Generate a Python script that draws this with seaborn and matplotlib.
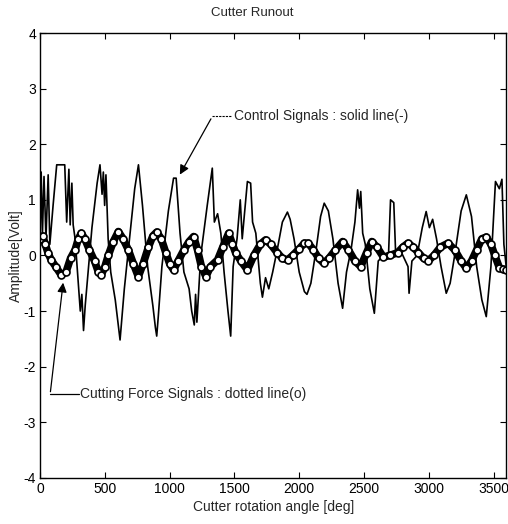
import numpy as np
import pandas as pd
import seaborn as sns
import matplotlib.pyplot as plt

sns.set_style("ticks")
plt.rcParams['font.family'] = ['Liberation Sans Narrow', 'Liberation Sans', 'DejaVu Sans']
plt.rcParams['axes.unicode_minus'] = False

# control signal (solid line)
ctrl_deg = [0, 8, 18, 30, 45, 62, 75, 100, 128, 190, 205, 222, 232, 245, 255, 270,
            292, 310, 322, 335, 348, 370, 400, 440, 462, 478, 488, 498, 508, 525,
            545, 580, 617, 650, 690, 730, 759, 790, 830, 870, 890, 900, 912, 940,
            990, 1030, 1050, 1080, 1110, 1150, 1170, 1190, 1200, 1210, 1240, 1290,
            1329, 1345, 1370, 1395, 1420, 1450, 1471, 1490, 1520, 1545, 1560, 1600,
            1625, 1640, 1665, 1700, 1716, 1740, 1765, 1795, 1830, 1870, 1909, 1930,
            1960, 2000, 2040, 2060, 2090, 2130, 2165, 2193, 2225, 2260, 2300, 2335,
            2365, 2400, 2430, 2451, 2465, 2475, 2490, 2510, 2545, 2580, 2610, 2650,
            2690, 2705, 2730, 2745, 2790, 2840, 2848, 2870, 2910, 2950, 2980, 3005,
            3030, 3060, 3095, 3135, 3165, 3200, 3250, 3290, 3330, 3370, 3410, 3444,
            3480, 3515, 3545, 3565, 3580, 3600]
ctrl_val = [0.3, 1.5, 0.4, 1.42, 0.3, 1.45, 0.2, 0.9, 1.63, 1.63, 0.6, 1.55, 0.55, 1.3, 0.55, 0.3,
            -0.4, -1.0, -0.7, -1.35, -0.9, -0.3, 0.5, 1.3, 1.63, 1.1, 1.5, 0.9, 1.45, 0.3,
            -0.3, -0.8, -1.52, -0.6, 0.3, 1.2, 1.63, 0.9, -0.2, -0.9, -1.3, -1.45, -1.1, -0.2,
            0.8, 1.39, 1.39, 0.4, -0.3, -0.6, -1.0, -1.25, -0.7, -1.2, 0.0, 0.9,
            1.57, 0.6, 0.75, 0.4, -0.3, -1.0, -1.45, -0.2, 0.3, 1.0, 0.3, 1.33,
            1.3, 0.6, 0.4, -0.5, -0.75, -0.4, -0.6, -0.3, 0.1, 0.6, 0.78, 0.65,
            0.3, -0.3, -0.65, -0.7, -0.5, 0.1, 0.7, 0.94, 0.8, 0.3, -0.5, -0.95,
            -0.3, 0.1, 0.6, 1.18, 0.85, 1.15, 0.4, 0.2, -0.6, -1.04, -0.1, 0.0,
            0.05, 1.0, 0.95, 0.0, 0.05, -0.2, -0.68, -0.1, 0.0, 0.5, 0.79, 0.5,
            0.65, 0.3, -0.2, -0.68, -0.5, 0.0, 0.8, 1.09, 0.7, -0.2, -0.8, -1.1,
            -0.2, 1.33, 1.2, 1.37, 0.2, -0.25]

# cutting force signal (circles)
force_deg = [0, 20, 40, 60, 85, 120, 162, 200, 235, 270, 295, 318, 345, 380, 420, 450,
             472, 500, 526, 565, 604, 640, 681, 720, 758, 795, 836, 870, 900, 935, 970,
             1000, 1030, 1065, 1110, 1150, 1185, 1215, 1245, 1280, 1315, 1370, 1410, 1455,
             1485, 1510, 1550, 1600, 1650, 1700, 1740, 1780, 1830, 1870, 1910, 1950, 2000,
             2040, 2070, 2110, 2150, 2190, 2230, 2280, 2335, 2380, 2430, 2475, 2520, 2560,
             2600, 2650, 2700, 2760, 2800, 2840, 2880, 2920, 2960, 2995, 3040, 3090, 3150,
             3200, 3250, 3290, 3330, 3370, 3410, 3444, 3480, 3510, 3545, 3575, 3600]
force_val = [0.3, 0.35, 0.2, 0.05, -0.08, -0.2, -0.35, -0.3, -0.05, 0.1, 0.3, 0.4, 0.3, 0.1, -0.1, -0.3,
             -0.35, -0.2, 0.0, 0.25, 0.43, 0.3, 0.1, -0.15, -0.38, -0.15, 0.15, 0.35, 0.42, 0.3, 0.05,
             -0.15, -0.26, -0.1, 0.1, 0.25, 0.34, 0.1, -0.2, -0.38, -0.2, -0.08, 0.15, 0.4,
             0.2, 0.04, -0.1, -0.26, 0.0, 0.2, 0.28, 0.2, 0.05, -0.05, -0.08, 0.0, 0.12,
             0.22, 0.22, 0.1, -0.05, -0.14, -0.05, 0.1, 0.25, 0.1, -0.1, -0.2, 0.05, 0.25,
             0.15, -0.03, 0.0, 0.05, 0.15, 0.22, 0.15, 0.05, -0.05, -0.1, 0.0, 0.15, 0.22,
             0.1, -0.1, -0.23, -0.1, 0.1, 0.3, 0.33, 0.2, 0.0, -0.22, -0.25, -0.26]

ctrl = pd.DataFrame({'deg': ctrl_deg, 'val': ctrl_val})
force = pd.DataFrame({'deg': force_deg, 'val': force_val})

fig = plt.figure(figsize=(5.08, 5.24), dpi=100)
ax = fig.add_axes([0.079, 0.088, 0.918, 0.849])

sns.lineplot(data=ctrl, x='deg', y='val', ax=ax, color='black', lw=1.2, sort=False)
sns.lineplot(data=force, x='deg', y='val', ax=ax, color='black', lw=5.5, sort=False,
             marker='o', markersize=5, markerfacecolor='white', markeredgecolor='black',
             markeredgewidth=1.2)

ax.set_xlim(0, 3600)
ax.set_ylim(-4, 4)
ax.set_xticks(np.arange(0, 3501, 500))
ax.set_yticks(np.arange(-4, 5, 1))
ax.tick_params(direction='in', top=True, right=True, length=4, width=0.8,
               labelsize=10, colors='black', pad=3)
for s in ax.spines.values():
    s.set_linewidth(1.0)
    s.set_color('black')

ax.set_title('Cutter Runout', fontsize=9.5, x=0.455, pad=12)
ax.set_xlabel('Cutter rotation angle [deg]', fontsize=10, labelpad=3)
ax.set_ylabel('Amplitude[Volt]', fontsize=10, labelpad=0)

# annotations
ax.plot([1329, 1480], [2.5, 2.5], color='black', lw=0.8, ls=(0, (2, 1)))
ax.annotate('', xy=(1068, 1.41), xytext=(1329, 2.5),
            arrowprops=dict(arrowstyle='-|>', color='black', lw=0.9, mutation_scale=14))
ax.text(1494, 2.5, 'Control Signals : solid line(-)', fontsize=10, va='center', ha='left')

ax.plot([300, 77], [-2.5, -2.5], color='black', lw=0.9)
ax.annotate('', xy=(180, -0.44), xytext=(77, -2.5),
            arrowprops=dict(arrowstyle='-|>', color='black', lw=0.9, mutation_scale=14))
ax.text(310, -2.5, 'Cutting Force Signals : dotted line(o)', fontsize=10, va='center', ha='left')

fig.savefig('out.png', dpi=100)
